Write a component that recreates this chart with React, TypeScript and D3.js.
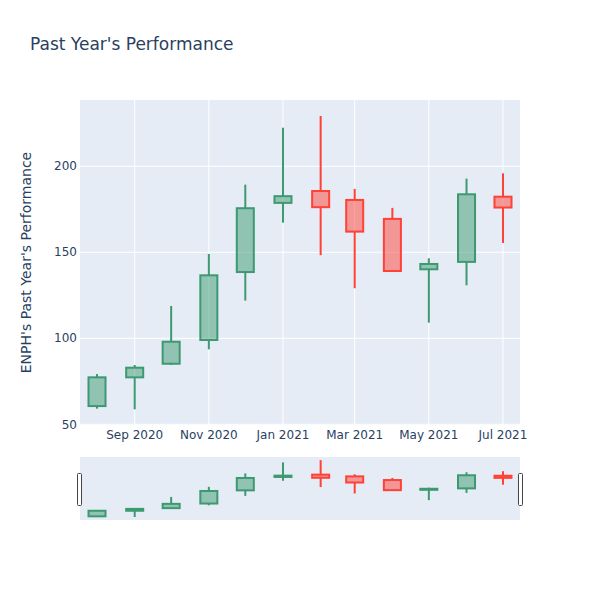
import React from "react";
import * as d3 from "d3";

// Monthly candles, Aug 2020 – Jul 2021
const months = [
  "2020-08-01", "2020-09-01", "2020-10-01", "2020-11-01", "2020-12-01", "2021-01-01",
  "2021-02-01", "2021-03-01", "2021-04-01", "2021-05-01", "2021-06-01", "2021-07-01",
];
const openVals = [60.6, 77.3, 85.2, 99.0, 138.5, 178.7, 185.6, 180.4, 169.4, 140.1, 144.4, 182.3];
const highVals = [79.2, 84.5, 118.8, 149.0, 189.3, 222.4, 229.2, 186.8, 175.8, 146.5, 192.8, 195.9];
const lowVals = [59.1, 58.7, 84.5, 93.6, 121.9, 167.2, 148.3, 129.1, 139.0, 109.1, 130.8, 155.4];
const closeVals = [77.3, 82.9, 98.0, 136.6, 175.6, 182.6, 176.2, 162.0, 139.1, 143.2, 183.7, 176.0];

const yTicks = [50, 100, 150, 200];
const xTickDates = ["2020-09-01", "2020-11-01", "2021-01-01", "2021-03-01", "2021-05-01", "2021-07-01"];

const title = "Past Year's Performance";
const yTitle = "ENPH's Past Year's Performance";

const parse = (s: string) => {
  const [y, m, d] = s.split("-").map(Number);
  return new Date(Date.UTC(y, m - 1, d));
};
const DAY = 86400000;

const INC = "#3D9970";
const DEC = "#FF4136";
const TEXT = "#2a3f5f";
const BG = "#E5ECF6";
const FONT = "'DejaVu Sans', Verdana, sans-serif";

export default function App() {
  const W = 600, H = 600;
  const left = 80, right = 520, top = 100, bottom = 425;
  const sTop = 457, sBottom = 520;

  const dates = months.map(parse);
  const x = d3
    .scaleUtc()
    .domain([new Date(+dates[0] - 14 * DAY), new Date(+dates[dates.length - 1] + 14 * DAY)])
    .range([left, right]);
  const yDomain: [number, number] = [49.6, 238.5];
  const y = d3.scaleLinear().domain(yDomain).range([bottom, top]);
  const ys = d3.scaleLinear().domain(yDomain).range([sBottom, sTop]);
  const halfW = (x(new Date(+dates[0] + 28 * DAY)) - x(dates[0])) / 4;
  const fmt = d3.utcFormat("%b %Y");

  const candles = (yy: d3.ScaleLinear<number, number>, key: string) =>
    dates.map((d, i) => {
      const o = openVals[i], c = closeVals[i], h = highVals[i], l = lowVals[i];
      const col = c >= o ? INC : DEC;
      const cx = x(d);
      const bt = yy(Math.max(o, c));
      const bb = yy(Math.min(o, c));
      return (
        <g key={key + i}>
          <line x1={cx} x2={cx} y1={yy(h)} y2={bt} stroke={col} strokeWidth={2} />
          <line x1={cx} x2={cx} y1={bb} y2={yy(l)} stroke={col} strokeWidth={2} />
          <rect
            x={cx - halfW}
            y={bt}
            width={halfW * 2}
            height={Math.max(bb - bt, 0.01)}
            fill={col}
            fillOpacity={0.5}
            stroke={col}
            strokeWidth={2}
          />
        </g>
      );
    });

  return (
    <svg width={W} height={H} style={{ display: "block", position: "absolute", left: 0, top: 0 }} fontFamily={FONT}>
      <rect x={0} y={0} width={W} height={H} fill="#fff" />
      <rect x={left} y={top} width={right - left} height={bottom - top} fill={BG} />
      {xTickDates.map((s) => (
        <line key={"gx" + s} x1={x(parse(s))} x2={x(parse(s))} y1={top} y2={bottom} stroke="#fff" strokeWidth={1} />
      ))}
      {yTicks.map((t) => (
        <line key={"gy" + t} x1={left} x2={right} y1={y(t)} y2={y(t)} stroke="#fff" strokeWidth={1} />
      ))}
      {candles(y, "m")}
      {yTicks.map((t) => (
        <text key={"ty" + t} x={77} y={y(t) + 4.2} textAnchor="end" fontSize={12} fill={TEXT}>
          {t}
        </text>
      ))}
      {xTickDates.map((s) => (
        <text key={"tx" + s} x={x(parse(s))} y={438.5} textAnchor="middle" fontSize={12} fill={TEXT}>
          {fmt(parse(s))}
        </text>
      ))}
      <text x={30} y={50} fontSize={17} fill={TEXT}>
        {title}
      </text>
      <text
        transform={`translate(31,${(top + bottom) / 2}) rotate(-90)`}
        textAnchor="middle"
        fontSize={14}
        fill={TEXT}
      >
        {yTitle}
      </text>
      {/* range slider */}
      <rect x={left} y={sTop} width={right - left} height={sBottom - sTop} fill={BG} />
      {candles(ys, "s")}
      <rect x={77.5} y={473.5} width={4} height={32} rx={1} fill="#fff" stroke="#444" strokeWidth={1} />
      <rect x={518.5} y={473.5} width={4} height={32} rx={1} fill="#fff" stroke="#444" strokeWidth={1} />
    </svg>
  );
}
